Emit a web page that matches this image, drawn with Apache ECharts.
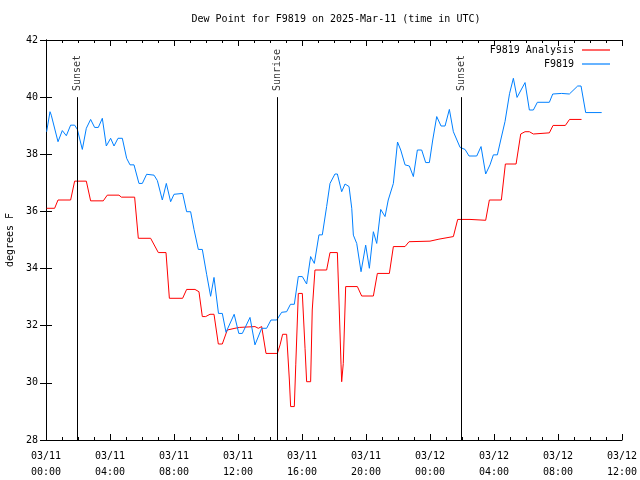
<!DOCTYPE html>
<html>
<head>
<meta charset="utf-8">
<script src="https://cdn.jsdelivr.net/npm/echarts@6/dist/echarts.min.js"></script>
<style>html,body{margin:0;padding:0;background:#fff}#c{width:640px;height:480px}</style>
</head>
<body>
<div id="c"></div>
<script>
// Tick labels (hours since 03/11 00:00 UTC)
var tickLabels = ['03/11\n00:00','03/11\n04:00','03/11\n08:00','03/11\n12:00','03/11\n16:00','03/11\n20:00','03/12\n00:00','03/12\n04:00','03/12\n08:00','03/12\n12:00'];

// F9819 observations
var obsHours = [0.04,0.25,0.33,0.75,1.02,1.27,1.54,1.79,1.96,2.27,2.52,2.79,3.04,3.27,3.52,3.77,4.04,4.25,4.5,4.77,5.04,5.25,5.5,5.81,6.02,6.29,6.75,6.96,7.27,7.52,7.79,8.0,8.54,8.79,9.04,9.25,9.52,9.77,10.04,10.29,10.5,10.78,11.02,11.25,11.76,12.05,12.27,12.75,13.06,13.48,13.79,14.06,14.42,14.73,15.04,15.28,15.52,15.77,16.02,16.29,16.54,16.77,17.06,17.27,17.54,17.75,18.06,18.21,18.48,18.69,18.94,19.11,19.21,19.42,19.69,19.98,20.21,20.46,20.67,20.92,21.19,21.39,21.71,21.97,22.17,22.44,22.71,22.96,23.21,23.48,23.73,23.96,24.17,24.42,24.69,24.94,25.21,25.46,25.88,26.19,26.44,26.92,27.19,27.48,27.75,27.96,28.21,28.42,28.69,28.97,29.21,29.44,29.94,30.21,30.46,30.71,31.46,31.67,32.23,32.71,33.23,33.44,33.73,34.73];
var obsValues = [38.79,39.49,39.37,38.44,38.83,38.65,39.02,39.02,38.87,38.17,38.91,39.22,38.94,38.94,39.26,38.29,38.56,38.29,38.56,38.56,37.86,37.63,37.63,36.98,36.98,37.30,37.27,37.08,36.40,36.98,36.34,36.6,36.63,35.99,35.99,35.37,34.67,34.67,33.8,33.03,33.69,32.43,32.43,31.77,32.40,31.73,31.73,32.29,31.33,31.91,31.91,32.2,32.2,32.47,32.49,32.75,32.75,33.72,33.72,33.46,34.42,34.18,35.18,35.18,36.17,36.98,37.31,37.31,36.69,36.96,36.87,36.11,35.17,34.88,33.89,34.82,34.01,35.29,34.88,36.07,35.82,36.4,36.98,38.43,38.15,37.63,37.59,37.22,38.15,38.15,37.71,37.71,38.5,39.32,38.99,38.99,39.57,38.79,38.24,38.17,37.94,37.94,38.27,37.31,37.63,37.98,37.98,38.5,39.15,40.12,40.66,39.99,40.51,39.55,39.55,39.82,39.82,40.11,40.13,40.11,40.39,40.39,39.46,39.46];

// F9819 Analysis
var anaHours = [0.04,0.54,0.75,1.54,1.79,2.52,2.79,3.58,3.83,4.56,4.71,5.54,5.77,6.54,7.02,7.5,7.71,8.54,8.79,9.31,9.56,9.77,9.98,10.25,10.5,10.77,11.02,11.33,11.81,12.08,13.06,13.27,13.48,13.58,13.75,14.46,14.63,14.79,15.04,15.21,15.29,15.52,15.61,15.77,16.02,16.19,16.29,16.54,16.64,16.81,17.54,17.75,18.21,18.31,18.44,18.48,18.58,18.73,19.46,19.73,20.46,20.71,21.46,21.71,22.44,22.69,24.0,24.56,25.46,25.73,26.5,27.48,27.71,28.46,28.71,29.38,29.67,29.94,30.21,30.46,31.46,31.69,32.46,32.72,33.47];
var anaValues = [36.11,36.11,36.4,36.4,37.06,37.06,36.37,36.37,36.57,36.57,36.5,36.5,35.06,35.06,34.56,34.56,32.96,32.96,33.27,33.27,33.19,32.32,32.32,32.4,32.4,31.36,31.36,31.85,31.91,31.94,31.97,31.91,31.97,31.91,31.03,31.03,31.33,31.70,31.70,30.1,29.17,29.17,30.63,33.13,33.13,31.21,30.04,30.04,32.55,33.95,33.95,34.56,34.56,32.9,30.63,30.04,30.68,33.37,33.37,33.04,33.04,33.83,33.83,34.77,34.77,34.94,34.96,35.03,35.12,35.72,35.72,35.69,36.4,36.4,37.66,37.66,38.71,38.79,38.79,38.71,38.75,39.01,39.01,39.22,39.22];

// Sun events
var sunHours = [1.96, 14.44, 25.94];
var sunNames = ['Sunset', 'Sunrise', 'Sunset'];

function pairs(xs, ys) { return xs.map(function (x, i) { return [x, ys[i]]; }); }

var FONT = 'DejaVu Sans Mono';
var chart = echarts.init(document.getElementById('c'), null, { renderer: 'canvas' });

var sunLines = sunHours.map(function (h) { return [{ coord: [h, 28] }, { coord: [h, 40] }]; });
var sunLabels = sunHours.map(function (h, i) { return { value: [h, 40], name: sunNames[i] }; });

chart.setOption({
  animation: false,
  backgroundColor: '#ffffff',
  title: {
    text: 'Dew Point for F9819 on 2025-Mar-11 (time in UTC)',
    left: 331, top: 9, textAlign: 'center',
    textStyle: { fontFamily: FONT, fontSize: 10, fontWeight: 'normal', color: '#000' }
  },
  legend: {
    orient: 'vertical', right: 25, top: 40, align: 'right',
    icon: 'rect', itemWidth: 28, itemHeight: 1.2, itemGap: 4,
    textStyle: { fontFamily: FONT, fontSize: 10, color: '#000', padding: [0, 3, 0, 0] },
    data: ['F9819 Analysis', 'F9819']
  },
  grid: { left: 46, right: 18, top: 40, bottom: 40, containLabel: false, outerBoundsMode: 'none' },
  xAxis: [{
    type: 'value', min: 0, max: 36, interval: 4,
    axisLine: { show: true, lineStyle: { color: '#000', width: 1 } },
    axisTick: { show: true, inside: true, length: 6, lineStyle: { color: '#000' } },
    minorTick: { show: true, splitNumber: 4, length: 3, lineStyle: { color: '#000' } },
    splitLine: { show: false },
    axisLabel: {
      fontFamily: FONT, fontSize: 10, color: '#000', lineHeight: 16, margin: 8,
      formatter: function (v) { return tickLabels[Math.round(v / 4)] || ''; }
    }
  }, {
    type: 'value', min: 0, max: 36, interval: 4, position: 'top',
    axisLine: { show: true, lineStyle: { color: '#000', width: 1 } },
    axisTick: { show: true, inside: true, length: 6, lineStyle: { color: '#000' } },
    minorTick: { show: true, splitNumber: 4, length: 3, lineStyle: { color: '#000' } },
    splitLine: { show: false }, axisLabel: { show: false }
  }],
  yAxis: [{
    type: 'value', min: 28, max: 42, interval: 2,
    name: 'degrees F', nameLocation: 'middle', nameRotate: 90, nameGap: 31,
    nameTextStyle: { fontFamily: FONT, fontSize: 10, color: '#000' },
    axisLine: { show: true, lineStyle: { color: '#000', width: 1 } },
    axisTick: { show: true, inside: true, length: 6, lineStyle: { color: '#000' } },
    splitLine: { show: false },
    axisLabel: { fontFamily: FONT, fontSize: 10, color: '#000', margin: 8 }
  }, {
    type: 'value', min: 28, max: 42, interval: 2, position: 'right',
    axisLine: { show: true, lineStyle: { color: '#000', width: 1 } },
    axisTick: { show: true, inside: true, length: 6, lineStyle: { color: '#000' } },
    splitLine: { show: false }, axisLabel: { show: false }
  }],
  series: [{
    name: 'F9819 Analysis', type: 'line', data: pairs(anaHours, anaValues),
    showSymbol: false, symbol: 'none', color: '#ff0000',
    lineStyle: { color: '#ff0000', width: 1 },
    markLine: {
      silent: true, symbol: ['none', 'none'], label: { show: false },
      lineStyle: { color: '#000', width: 1, type: 'solid' },
      data: sunLines
    }
  }, {
    name: 'F9819', type: 'line', data: pairs(obsHours, obsValues),
    showSymbol: false, symbol: 'none', color: '#0080ff',
    lineStyle: { color: '#0080ff', width: 1 }
  }, {
    name: 'sun', type: 'scatter', data: sunLabels, symbolSize: 0.1, silent: true,
    label: {
      show: true, formatter: '{b}', rotate: 90, position: 'top', distance: 5,
      align: 'left', verticalAlign: 'middle', offset: [1, 0],
      fontFamily: FONT, fontSize: 10, color: '#000'
    }
  }]
});
</script>
</body>
</html>
